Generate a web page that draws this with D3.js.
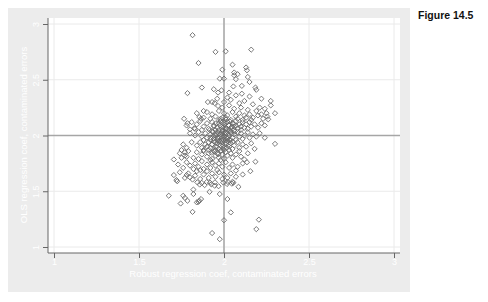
<!DOCTYPE html>
<html>
<head>
<meta charset="utf-8">
<script src="https://cdn.jsdelivr.net/npm/d3@7"></script>
<style>
  body { margin: 0; background: #fff; }
  svg text { font-family: "Liberation Sans", Arial, sans-serif; }
</style>
</head>
<body>
<svg id="chart" width="488" height="302"></svg>
<script>
// axis ticks
const xTicks = [ 1, 1.5, 2, 2.5, 3 ];
const yTicks = [ 1, 1.5, 2, 2.5, 3 ];
const xTitle = 'Robust regression coef, contaminated errors';
const yTitle = 'OLS regression coef, contaminated errors';
const figLabel = 'Figure 14.5';

// [robust coef, OLS coef] - outlying points
const outerPoints = [
    [1.815,2.90],[1.95,2.75],[2.01,2.755],[2.16,2.77],[1.85,2.65],[2.05,2.635],[1.99,2.59],[2.13,2.61],
    [2.135,2.585],[2.06,2.565],[2.08,2.55],[2.06,2.54],[1.975,2.51],[2.0,2.51],[2.07,2.505],[2.14,2.525],
    [2.15,2.48],[1.785,2.38],[1.87,2.43],[1.94,2.415],[1.965,2.385],[1.985,2.405],[2.055,2.44],[2.105,2.445],
    [2.03,2.385],[2.185,2.43],[2.19,2.41],[2.02,2.34],[2.07,2.36],[2.105,2.375],[2.15,2.35],[2.22,2.33],
    [2.275,2.31],[2.275,2.27],[2.30,2.20],[2.255,2.17],[2.26,2.145],[1.905,2.30],[1.93,2.30],[1.945,2.29],
    [1.965,2.265],[1.88,2.22],[1.765,2.15],[1.785,2.11],[1.855,2.165],[1.865,2.15],[1.80,2.055],[1.825,2.065],
    [2.30,1.925],[2.185,1.765],[2.12,1.785],[2.135,1.76],[2.155,1.68],[2.11,1.65],[2.07,1.685],[2.05,1.585],
    [1.705,1.785],[1.75,1.87],[1.77,1.85],[1.75,1.80],[1.78,1.81],[1.705,1.645],[1.72,1.60],[1.725,1.59],
    [1.78,1.645],[1.80,1.625],[1.815,1.605],[1.843,1.58],[1.869,1.575],[1.898,1.582],[1.918,1.577],[1.947,1.58],
    [1.996,1.578],[2.023,1.583],[2.055,1.576],[1.857,1.56],[1.886,1.555],[1.925,1.562],[1.945,1.55],[1.968,1.545],
    [2.018,1.565],[2.046,1.568],[1.675,1.46],[1.76,1.46],[1.77,1.44],[1.745,1.39],[1.785,1.415],[1.82,1.515],
    [1.82,1.475],[1.84,1.40],[1.855,1.415],[1.865,1.43],[1.915,1.495],[1.975,1.475],[2.02,1.43],[1.815,1.315],
    [2.04,1.31],[2.0,1.24],[2.205,1.245],[2.19,1.16],[1.93,1.125],[1.975,1.07],[2.085,1.54],[1.85,1.405]
];

// [robust coef, OLS coef] - the dense middle of the cloud
const corePoints = [
    [1.96,2.33],[2.00,2.30],[2.04,2.32],[2.09,2.29],[2.12,2.31],[2.17,2.28],[2.21,2.25],[1.99,2.25],
    [2.03,2.27],[2.06,2.24],[2.10,2.25],[2.14,2.23],[2.19,2.22],[2.24,2.24],
    [1.84,2.20],[1.90,2.21],[1.93,2.19],[1.97,2.22],[2.00,2.20],[2.02,2.18],[2.05,2.21],[2.07,2.17],
    [2.09,2.20],[2.12,2.18],[2.15,2.19],[2.17,2.16],[2.20,2.18],[2.23,2.15],[1.88,2.16],[1.92,2.15],
    [1.95,2.17],[1.98,2.15],[2.01,2.16],[2.04,2.14],[2.08,2.15],[2.11,2.14],[2.13,2.16],[2.16,2.14],
    [2.22,2.19],[2.25,2.20],
    [1.78,2.09],[1.81,2.12],[1.84,2.10],[1.86,2.13],[1.88,2.08],[1.90,2.11],[1.91,2.06],[1.93,2.12],
    [1.94,2.09],[1.96,2.07],[1.97,2.11],[1.98,2.13],[1.99,2.08],[2.00,2.10],[2.01,2.06],[2.02,2.12],
    [2.03,2.09],[2.04,2.07],[2.05,2.11],[2.06,2.08],[2.07,2.13],[2.08,2.06],[2.09,2.10],[2.10,2.08],
    [2.11,2.12],[2.12,2.07],[2.13,2.10],[2.15,2.12],[2.16,2.08],[2.18,2.10],[2.20,2.07],[2.22,2.11],
    [2.24,2.09],[1.95,2.05],[1.99,2.05],[2.03,2.05],[2.06,2.05],[2.10,2.05],[2.14,2.06],[1.87,2.05],
    [1.83,2.06],
    [1.80,2.02],[1.83,2.00],[1.85,2.03],[1.87,1.99],[1.89,2.02],[1.90,1.98],[1.92,2.01],[1.93,2.04],
    [1.94,1.97],[1.95,2.00],[1.96,2.03],[1.97,1.98],[1.98,2.01],[1.99,2.04],[2.00,1.99],[2.01,2.02],
    [2.02,1.97],[2.03,2.00],[2.04,2.03],[2.05,1.98],[2.06,2.01],[2.07,1.96],[2.08,2.03],[2.09,1.99],
    [2.10,2.02],[2.11,1.97],[2.12,2.00],[2.14,2.03],[2.15,1.98],[2.17,2.01],[2.19,1.99],[2.21,2.02],
    [2.24,1.98],[1.96,1.96],[1.99,1.97],[2.01,1.96],[2.04,1.96],[1.92,1.96],[1.88,1.96],[2.00,2.02],
    [1.97,2.02],
    [1.76,1.92],[1.78,1.89],[1.81,1.94],[1.84,1.91],[1.86,1.94],[1.87,1.89],[1.89,1.92],[1.91,1.94],
    [1.92,1.89],[1.93,1.92],[1.94,1.95],[1.95,1.90],[1.96,1.93],[1.97,1.88],[1.98,1.91],[1.99,1.94],
    [2.00,1.89],[2.01,1.92],[2.02,1.95],[2.03,1.90],[2.04,1.93],[2.05,1.88],[2.06,1.91],[2.08,1.94],
    [2.09,1.89],[2.11,1.92],[2.13,1.90],[2.16,1.93],[2.18,1.88],[1.88,1.87],[1.95,1.87],[2.00,1.87],
    [2.03,1.87],[1.97,1.95],[1.90,1.90],
    [1.74,1.84],[1.77,1.82],[1.79,1.86],[1.82,1.80],[1.84,1.85],[1.85,1.79],[1.87,1.83],[1.88,1.86],
    [1.90,1.81],[1.91,1.84],[1.93,1.79],[1.94,1.86],[1.95,1.82],[1.96,1.84],[1.97,1.80],[1.98,1.86],
    [1.99,1.83],[2.00,1.79],[2.01,1.85],[2.02,1.82],[2.04,1.84],[2.05,1.80],[2.07,1.83],[2.09,1.86],
    [2.10,1.81],[2.14,1.84],[1.92,1.78],[1.98,1.78],
    [1.73,1.74],[1.76,1.71],[1.78,1.76],[1.80,1.73],[1.82,1.70],[1.83,1.75],[1.85,1.72],[1.87,1.77],
    [1.88,1.70],[1.90,1.74],[1.92,1.71],[1.93,1.76],[1.95,1.73],[1.96,1.69],[1.97,1.75],[1.99,1.72],
    [2.01,1.76],[2.03,1.71],[2.05,1.74],[2.08,1.72],[2.11,1.75],[1.86,1.69],
    [1.74,1.67],[1.77,1.62],[1.79,1.66],[1.83,1.64],[1.84,1.68],[1.86,1.61],[1.88,1.65],[1.90,1.68],
    [1.91,1.62],[1.93,1.66],[1.95,1.63],[1.97,1.67],[1.99,1.61],[2.00,1.65],[2.02,1.62],[2.04,1.66],
    [2.07,1.63]
];

// [robust coef, OLS coef] - the darkest knot, just left of and above the crossing
const knotPoints = [
    [1.953,2.012],[1.968,2.047],[1.982,1.993],[1.994,2.071],[2.007,2.028],[2.018,1.985],[2.026,2.094],[2.037,2.041],
    [1.946,1.943],[1.962,1.978],[1.977,2.089],[1.988,1.952],[2.003,2.118],[2.014,2.062],[2.031,1.963],[2.043,2.015],
    [1.934,2.031],[1.941,2.083],[1.972,1.921],[1.987,2.022],[1.998,1.961],[2.011,1.934],[2.022,2.053],[2.047,2.079],
    [1.921,1.982],[1.929,1.917],[1.958,1.897],[1.983,1.864],[1.996,1.908],[2.016,1.889],[2.028,1.918],[2.052,1.944],
    [1.911,1.871],[1.926,1.846],[1.944,1.858],[1.966,1.832],[1.978,1.943],[2.009,2.004],[2.058,2.102],[2.064,2.036],
    [1.951,2.108],[1.971,2.138],[1.992,2.161],[2.012,2.143],[2.035,2.126],[2.071,2.087],[1.938,1.997],[1.917,2.049]
];

const points = outerPoints.concat( corePoints, knotPoints );

const svg = d3.select( '#chart' );

// outer grey panel and white plot region
svg.append( 'rect' ).attr( 'x', 8 ).attr( 'y', 8 ).attr( 'width', 402 ).attr( 'height', 284 ).attr( 'fill', '#ececec' );
const plot = { left: 48, top: 18, right: 400, bottom: 253 };
svg.append( 'rect' )
    .attr( 'x', plot.left ).attr( 'y', plot.top )
    .attr( 'width', plot.right - plot.left ).attr( 'height', plot.bottom - plot.top )
    .attr( 'fill', '#fff' );

const x = d3.scaleLinear().domain( [ 1, 3 ] ).range( [ 54, 394 ] );
const y = d3.scaleLinear().domain( [ 1, 3 ] ).range( [ 247, 24 ] );

// gridlines
svg.append( 'g' ).selectAll( 'line' ).data( xTicks ).join( 'line' )
    .attr( 'x1', d => x( d ) ).attr( 'x2', d => x( d ) )
    .attr( 'y1', plot.top ).attr( 'y2', plot.bottom )
    .attr( 'stroke', '#eaeaea' ).attr( 'stroke-width', 1 );
svg.append( 'g' ).selectAll( 'line' ).data( yTicks ).join( 'line' )
    .attr( 'x1', plot.left ).attr( 'x2', plot.right )
    .attr( 'y1', d => y( d ) ).attr( 'y2', d => y( d ) )
    .attr( 'stroke', '#eaeaea' ).attr( 'stroke-width', 1 );

// reference lines at 2
svg.append( 'line' )
    .attr( 'x1', x( 2 ) ).attr( 'x2', x( 2 ) ).attr( 'y1', plot.top ).attr( 'y2', plot.bottom )
    .attr( 'stroke', '#a6a6a6' ).attr( 'stroke-width', 1.5 );
svg.append( 'line' )
    .attr( 'x1', plot.left ).attr( 'x2', plot.right ).attr( 'y1', y( 2 ) ).attr( 'y2', y( 2 ) )
    .attr( 'stroke', '#a6a6a6' ).attr( 'stroke-width', 1.5 );

// hollow diamonds
svg.append( 'g' ).selectAll( 'path' ).data( points ).join( 'path' )
    .attr( 'transform', d => `translate(${x( d[ 0 ] )},${y( d[ 1 ] )})` )
    .attr( 'd', 'M0,-2.6L2.6,0L0,2.6L-2.6,0Z' )
    .attr( 'fill', 'none' )
    .attr( 'stroke', '#6a6a6a' )
    .attr( 'stroke-width', 0.9 );

// axes
const xAxis = svg.append( 'g' )
    .attr( 'transform', `translate(0,${plot.bottom})` )
    .call( d3.axisBottom( x ).tickValues( xTicks ).tickSize( 5 ).tickFormat( d3.format( '' ) ) );
const yAxis = svg.append( 'g' )
    .attr( 'transform', `translate(${plot.left},0)` )
    .call( d3.axisLeft( y ).tickValues( yTicks ).tickSize( 5 ).tickFormat( d3.format( '' ) ) );

[ xAxis, yAxis ].forEach( a => {
    a.select( '.domain' ).remove();
    a.selectAll( 'line' ).attr( 'stroke', '#666' );
    a.selectAll( 'text' ).attr( 'fill', '#fff' ).style( 'font-size', '9px' );
} );
xAxis.selectAll( 'text' ).attr( 'y', 6 );
yAxis.selectAll( 'text' )
    .attr( 'transform', 'rotate(-90)' )
    .attr( 'x', 0 ).attr( 'dy', 0 ).attr( 'y', -9 )
    .attr( 'text-anchor', 'middle' );

svg.append( 'line' ).attr( 'x1', plot.left ).attr( 'x2', plot.left ).attr( 'y1', plot.top ).attr( 'y2', plot.bottom )
    .attr( 'stroke', '#666' );
svg.append( 'line' ).attr( 'x1', plot.left ).attr( 'x2', plot.right ).attr( 'y1', plot.bottom ).attr( 'y2', plot.bottom )
    .attr( 'stroke', '#666' );

// axis titles
svg.append( 'text' )
    .attr( 'x', 223 ).attr( 'y', 277 )
    .attr( 'text-anchor', 'middle' ).attr( 'fill', '#fff' ).style( 'font-size', '9.5px' )
    .text( xTitle );
svg.append( 'text' )
    .attr( 'transform', 'translate(27,135) rotate(-90)' )
    .attr( 'text-anchor', 'middle' ).attr( 'fill', '#fff' ).style( 'font-size', '9.5px' )
    .text( yTitle );

svg.append( 'text' )
    .attr( 'x', 418 ).attr( 'y', 19 )
    .attr( 'fill', '#111' ).style( 'font-size', '10.5px' ).style( 'font-weight', 'bold' )
    .text( figLabel );
</script>
</body>
</html>
